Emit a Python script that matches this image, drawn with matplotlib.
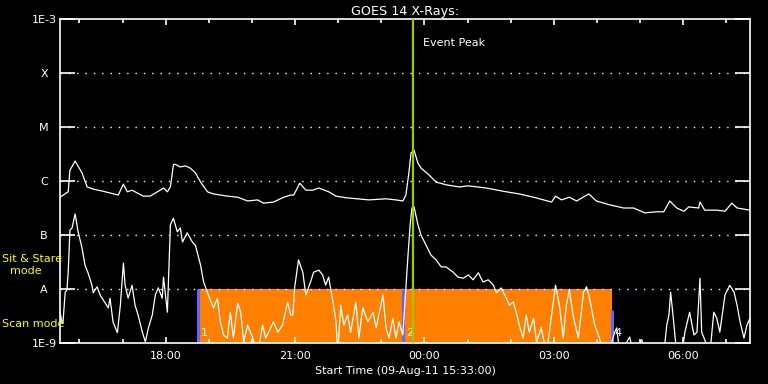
import datetime as dt
import matplotlib
matplotlib.use('Agg')
import matplotlib.pyplot as plt
import matplotlib.dates as mdates
import matplotlib.ticker as mticker

# start of the plot window, times below are hours after this
start = dt.datetime(2011, 8, 9, 15, 33, 0)
span_hours = 16.0

# 1-8 A channel (log10 W/m^2)
long_t = [0.00, 0.19, 0.23, 0.35, 0.51, 0.63, 0.77, 1.00, 1.35, 1.47, 1.56, 1.67, 1.93, 2.09,
          2.26, 2.40, 2.49, 2.56, 2.63, 2.67, 2.79, 2.91, 3.02, 3.14, 3.26, 3.42, 3.56, 3.88,
          4.12, 4.35, 4.58, 4.72, 4.95, 5.19, 5.35, 5.42, 5.56, 5.70, 5.86, 6.00, 6.23, 6.40,
          6.63, 7.16, 7.56, 7.79, 7.95, 8.02, 8.09, 8.14, 8.21, 8.30, 8.37, 8.56, 8.72, 8.95,
          9.26, 9.47, 9.88, 10.28, 10.65, 10.98, 11.40, 11.49, 11.63, 11.81, 11.98, 12.26,
          12.44, 12.74, 13.07, 13.30, 13.56, 13.84, 14.00, 14.14, 14.30, 14.47, 14.58, 14.81,
          14.84, 14.95, 15.23, 15.42, 15.58, 15.70, 16.00]
long_log = [-6.30, -6.20, -5.80, -5.63, -5.85, -6.11, -6.15, -6.19, -6.26, -6.06, -6.20, -6.17,
            -6.28, -6.28, -6.20, -6.13, -6.20, -6.11, -5.70, -5.69, -5.74, -5.72, -5.76, -5.85,
            -6.02, -6.20, -6.24, -6.28, -6.30, -6.37, -6.35, -6.41, -6.39, -6.30, -6.26, -6.26,
            -6.04, -6.17, -6.17, -6.13, -6.20, -6.28, -6.31, -6.35, -6.33, -6.35, -6.37, -6.26,
            -5.85, -5.48, -5.43, -5.67, -5.76, -5.89, -6.02, -6.07, -6.11, -6.09, -6.13, -6.19,
            -6.24, -6.30, -6.39, -6.28, -6.35, -6.30, -6.37, -6.24, -6.37, -6.44, -6.50, -6.50,
            -6.59, -6.57, -6.57, -6.37, -6.50, -6.56, -6.48, -6.50, -6.39, -6.54, -6.54, -6.56,
            -6.41, -6.50, -6.54]

# 0.5-4 A channel (log10 W/m^2), -9.2 = below plot floor
short_t = [0.00, 0.05, 0.07, 0.12, 0.16, 0.19, 0.23, 0.28, 0.35, 0.42, 0.51, 0.58, 0.65, 0.74,
           0.77, 0.86, 0.93, 1.00, 1.12, 1.16, 1.23, 1.33, 1.40, 1.47, 1.51, 1.58, 1.67, 1.74,
           1.81, 1.91, 1.98, 2.05, 2.14, 2.21, 2.28, 2.37, 2.40, 2.49, 2.56, 2.63, 2.72, 2.79,
           2.84, 2.95, 3.07, 3.14, 3.26, 3.33, 3.44, 3.56, 3.65, 3.72, 3.79, 3.88, 3.95, 4.02,
           4.12, 4.19, 4.26, 4.35, 4.47, 4.58, 4.70, 4.77, 4.95, 5.05, 5.16, 5.28, 5.35, 5.40,
           5.44, 5.53, 5.63, 5.70, 5.81, 5.88, 6.00, 6.09, 6.16, 6.23, 6.33, 6.40, 6.44, 6.51,
           6.58, 6.67, 6.74, 6.86, 6.93, 7.02, 7.14, 7.26, 7.33, 7.44, 7.49, 7.56, 7.63, 7.72,
           7.79, 7.86, 7.95, 8.02, 8.07, 8.12, 8.16, 8.21, 8.30, 8.37, 8.49, 8.60, 8.72, 8.84,
           8.95, 9.12, 9.23, 9.35, 9.47, 9.58, 9.70, 9.81, 9.93, 10.05, 10.12, 10.23, 10.35,
           10.42, 10.51, 10.58, 10.65, 10.74, 10.81, 10.88, 10.98, 11.05, 11.16, 11.28, 11.40,
           11.49, 11.58, 11.67, 11.74, 11.81, 11.91, 12.02, 12.14, 12.21, 12.28, 12.40, 12.51,
           12.60, 12.72, 12.86, 12.91, 12.98, 13.21, 13.30, 13.49, 13.60, 14.00, 14.07, 14.12,
           14.16, 14.23, 14.30, 14.42, 14.49, 14.60, 14.70, 14.77, 14.84, 14.88, 14.95, 15.07,
           15.16, 15.23, 15.30, 15.42, 15.53, 15.63, 15.70, 15.77, 15.86, 15.93, 16.00]
short_log = [-8.43, -8.63, -8.61, -8.06, -8.02, -7.69, -6.91, -6.87, -6.61, -6.94, -7.24, -7.56,
             -7.70, -7.93, -8.07, -7.96, -8.11, -8.20, -8.35, -8.17, -8.61, -8.81, -8.30, -7.52,
             -7.93, -8.17, -7.93, -8.30, -8.48, -8.80, -8.98, -8.72, -8.48, -8.11, -7.98, -8.17,
             -7.78, -8.43, -6.81, -6.69, -6.94, -6.87, -7.13, -6.96, -7.13, -7.19, -7.56, -7.87,
             -8.11, -8.35, -8.17, -8.61, -8.85, -8.91, -8.43, -8.91, -8.26, -8.43, -8.98, -8.67,
             -8.91, -9.20, -8.67, -8.91, -8.61, -8.80, -8.67, -8.24, -8.48, -8.48, -7.98, -7.46,
             -7.69, -8.11, -7.87, -7.69, -7.65, -7.74, -7.93, -7.78, -8.24, -8.61, -9.20, -8.30,
             -8.67, -8.48, -8.80, -8.24, -8.91, -8.35, -8.61, -8.43, -8.72, -8.30, -8.11, -8.72,
             -8.91, -8.54, -8.91, -8.61, -8.85, -7.98, -7.37, -6.81, -6.50, -6.48, -6.81, -7.00,
             -7.19, -7.37, -7.46, -7.59, -7.59, -7.69, -7.78, -7.80, -7.74, -7.83, -7.70, -7.87,
             -7.83, -7.93, -8.07, -7.98, -8.17, -8.30, -8.24, -8.43, -8.67, -8.91, -8.48, -8.80,
             -8.54, -8.98, -8.72, -9.20, -8.48, -7.93, -8.30, -8.91, -8.30, -8.02, -8.54, -8.91,
             -8.06, -7.96, -8.17, -8.67, -8.91, -9.20, -9.20, -8.80, -8.72, -9.20, -8.89, -9.20,
             -8.94, -9.20, -9.20, -8.67, -8.48, -8.06, -8.61, -9.20, -9.20, -8.80, -8.43, -8.85,
             -8.80, -7.80, -8.80, -8.94, -9.20, -8.43, -8.54, -8.80, -8.11, -7.93, -8.06, -8.30,
             -8.61, -8.91, -8.67, -8.54]

# observing mode changes (hours after start), top of the marker bar (log10)
mode_t = [3.19, 7.95, 12.79]
mode_top = [-8.0, -8.0, -8.39]
mode_labels = ['1', '2', '4']
scan_from, scan_to = 3.19, 12.79
peak_t = 8.19

class_levels = [-9, -8, -7, -6, -5, -4, -3]
class_names = ['1E-9', 'A', 'B', 'C', 'M', 'X', '1E-3']


def to_time(h):
    return start + dt.timedelta(hours=h)


plt.rcParams['font.family'] = ['DejaVu Sans']
fig = plt.figure(figsize=(7.68, 3.84), dpi=100, facecolor='black')
ax = fig.add_axes([60 / 768, 41 / 384, 690 / 768, 324 / 384], facecolor='black')

# scan mode block + mode change bars
ax.fill_between([to_time(scan_from), to_time(scan_to)], 1e-9, 1e-8, color='#ff8000',
                linewidth=0, zorder=1)
for t, top, lab in zip(mode_t, mode_top, mode_labels):
    ax.vlines(to_time(t), 1e-9, 10 ** top, color='#6464ff', linewidth=2.2, zorder=2)
    ax.annotate(lab, xy=(to_time(t), 10 ** -8.82), xytext=(3, 0), textcoords='offset pixels',
                color='white', fontsize=8, va='center', ha='left', zorder=4)

# dotted class lines
for lv in class_levels[1:-1]:
    ax.axhline(10 ** lv, color='white', linestyle=(0, (1, 5)), linewidth=1, zorder=1.5)

ax.plot([to_time(h) for h in long_t], [10 ** v for v in long_log], color='white',
        linewidth=0.9, zorder=3)
ax.plot([to_time(h) for h in short_t], [10 ** v for v in short_log], color='white',
        linewidth=0.9, zorder=3)

ax.axvline(to_time(peak_t), color='#99cc00', linewidth=1.6, zorder=5)
ax.annotate('Event Peak', xy=(to_time(peak_t), 1), xycoords=('data', 'axes fraction'),
            xytext=(10, -24), textcoords='offset pixels', color='white', fontsize=8,
            va='center', ha='left')

ax.set_yscale('log')
ax.set_ylim(1e-9, 1e-3)
ax.set_xlim(to_time(0), to_time(span_hours))
ax.yaxis.set_major_locator(mticker.FixedLocator([10 ** v for v in class_levels]))
ax.yaxis.set_minor_locator(mticker.NullLocator())
ax.set_yticklabels(class_names)
for lab in ax.get_yticklabels():
    lab.set_horizontalalignment('center')

ax.xaxis.set_major_locator(mdates.HourLocator(byhour=range(0, 24, 3)))
ax.xaxis.set_minor_locator(mdates.HourLocator())
ax.xaxis.set_major_formatter(mdates.DateFormatter('%H:%M'))

for side in ax.spines.values():
    side.set_color('white')
    side.set_linewidth(1.2)
ax.tick_params(axis='y', which='major', direction='in', length=10.8, width=1.2, pad=11.5,
               right=True, colors='white', labelsize=8)
ax.tick_params(axis='x', which='major', direction='in', length=4.5, width=1.2, pad=6,
               top=True, colors='white', labelsize=8)
ax.tick_params(axis='x', which='minor', direction='in', length=3, width=1.2, top=True,
               colors='white')

ax.set_title('GOES 14 X-Rays:', color='white', fontsize=9.2, pad=3)
ax.set_xlabel('Start Time (09-Aug-11 15:33:00)', color='white', fontsize=8, labelpad=3)

fig.text(2 / 768, 1 - 259 / 384, 'Sit & Stare', color='#ffff00', fontsize=8, va='center')
fig.text(26 / 768, 1 - 271 / 384, 'mode', color='#ffff00', fontsize=8, va='center',
         ha='center')
fig.text(2 / 768, 1 - 324 / 384, 'Scan mode', color='#ffff00', fontsize=8, va='center')

fig.savefig('out.png', dpi=100, facecolor='black')
